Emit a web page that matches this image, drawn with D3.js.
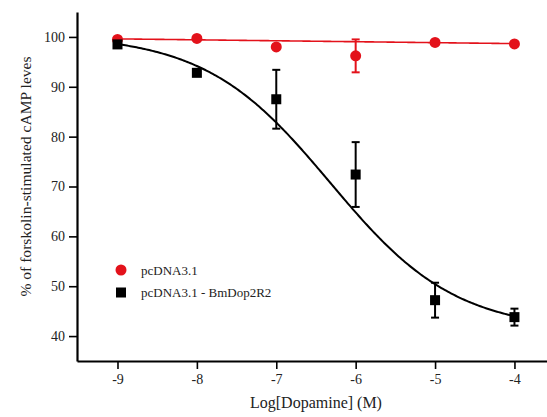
<!DOCTYPE html>
<html>
<head>
<meta charset="utf-8">
<script src="https://cdnjs.cloudflare.com/ajax/libs/d3/7.8.5/d3.min.js"></script>
<style>
	body { margin: 0; background: #fff; }
	svg text { font-family: "Liberation Serif", "DejaVu Serif", serif; fill: #222; }
</style>
</head>
<body>
<svg id="chart" width="547" height="417"></svg>
<script>
// log[dopamine] doses
const logDose = [-9, -8, -7, -6, -5, -4];

// pcDNA3.1 (red)
const ctrlMean = [99.5, 99.7, 98.0, 96.2, 98.9, 98.6];
const ctrlErr = [0, 0, 0, 3.3, 0, 0];
// linear fit of control
const ctrlFit = { intercept: 97.9, slope: -0.19 };

// pcDNA3.1 - BmDop2R2 (black)
const recMean = [98.5, 92.8, 87.5, 72.4, 47.2, 43.8];
const recErr = [0, 0, 5.9, 6.5, 3.5, 1.7];
// 4-parameter logistic fit
const recFit = { top: 100.5, bottom: 41, logEC50: -6.32, hill: 0.55 };

const yTicks = [40, 50, 60, 70, 80, 90, 100];
const xTicks = [-9, -8, -7, -6, -5, -4];
const legendLabels = ["pcDNA3.1", "pcDNA3.1 - BmDop2R2"];

const red = "#e3121b", black = "#000";

const margin = { top: 12, right: 0, bottom: 56, left: 77 };
const width = 547 - margin.left - margin.right,
	height = 417 - margin.top - margin.bottom;

const svg = d3.select("#chart")
	.append("g")
	.attr("transform", `translate(${margin.left},${margin.top})`);

const x = d3.scaleLinear().domain([-9.51, -3.59]).range([0, width]);
const y = d3.scaleLinear().domain([35, 105]).range([height, 0]);

// axes
const yAxis = svg.append("g")
	.call(d3.axisLeft(y).tickValues(yTicks).tickSize(8).tickPadding(4).tickSizeOuter(0)
		.tickFormat((d) => String(d)));
const xAxis = svg.append("g")
	.attr("transform", `translate(0,${height})`)
	.call(d3.axisBottom(x).tickValues(xTicks).tickSize(8).tickPadding(5).tickSizeOuter(0)
		.tickFormat((d) => String(d)));

[xAxis, yAxis].forEach((g) => {
	g.attr("font-family", "Liberation Serif").attr("font-size", 14);
	g.select(".domain").attr("stroke", black).attr("stroke-width", 2.2);
	g.selectAll(".tick line").attr("stroke", black).attr("stroke-width", 1.6);
	g.selectAll(".tick text").attr("fill", "#222");
});

// axis titles
svg.append("text")
	.attr("transform", `translate(${-46},${176.5 - margin.top}) rotate(-90)`)
	.attr("text-anchor", "middle")
	.style("font-size", "15.6px")
	.text("% of forskolin-stimulated cAMP leves");

svg.append("text")
	.attr("x", x(-6.5))
	.attr("y", height + 47)
	.attr("text-anchor", "middle")
	.style("font-size", "16px")
	.text("Log[Dopamine] (M)");

// fit curves
const fineX = d3.range(-9, -3.999, 0.02);
const line = d3.line().x((d) => x(d[0])).y((d) => y(d[1]));

svg.append("path")
	.datum(fineX.map((v) => [v, ctrlFit.intercept + ctrlFit.slope * v]))
	.attr("d", line)
	.attr("fill", "none")
	.attr("stroke", red)
	.attr("stroke-width", 1.6);

svg.append("path")
	.datum(fineX.map((v) => [v, recFit.bottom + (recFit.top - recFit.bottom) / (1 + Math.pow(10, (v - recFit.logEC50) * recFit.hill))]))
	.attr("d", line)
	.attr("fill", "none")
	.attr("stroke", black)
	.attr("stroke-width", 2);

// error bars
function errorBars(mean, err, color) {
	const g = svg.append("g").attr("stroke", color).attr("stroke-width", 2);
	logDose.forEach((d, i) => {
		if (!err[i]) return;
		const cx = x(d), y0 = y(mean[i] - err[i]), y1 = y(mean[i] + err[i]);
		g.append("line").attr("x1", cx).attr("x2", cx).attr("y1", y0).attr("y2", y1);
		g.append("line").attr("x1", cx - 4).attr("x2", cx + 4).attr("y1", y0).attr("y2", y0);
		g.append("line").attr("x1", cx - 4).attr("x2", cx + 4).attr("y1", y1).attr("y2", y1);
	});
}
errorBars(ctrlMean, ctrlErr, red);
errorBars(recMean, recErr, black);

// markers
svg.selectAll(".ctrl")
	.data(logDose)
	.enter()
	.append("circle")
	.attr("cx", (d) => x(d))
	.attr("cy", (d, i) => y(ctrlMean[i]))
	.attr("r", 5.5)
	.attr("fill", red);

svg.selectAll(".rec")
	.data(logDose)
	.enter()
	.append("rect")
	.attr("x", (d) => x(d) - 5)
	.attr("y", (d, i) => y(recMean[i]) - 5)
	.attr("width", 10)
	.attr("height", 10)
	.attr("fill", black);

// legend
const legend = svg.append("g").attr("transform", `translate(${121 - margin.left},${270 - margin.top})`);
legend.append("circle").attr("cx", 0).attr("cy", 0).attr("r", 5.5).attr("fill", red);
legend.append("rect").attr("x", -5).attr("y", 17.5).attr("width", 10).attr("height", 10).attr("fill", black);
legend.selectAll("text.lbl")
	.data(legendLabels)
	.enter()
	.append("text")
	.attr("x", 20)
	.attr("y", (d, i) => i * 22.5 + 4.5)
	.style("font-size", "13px")
	.text((d) => d);
</script>
</body>
</html>
